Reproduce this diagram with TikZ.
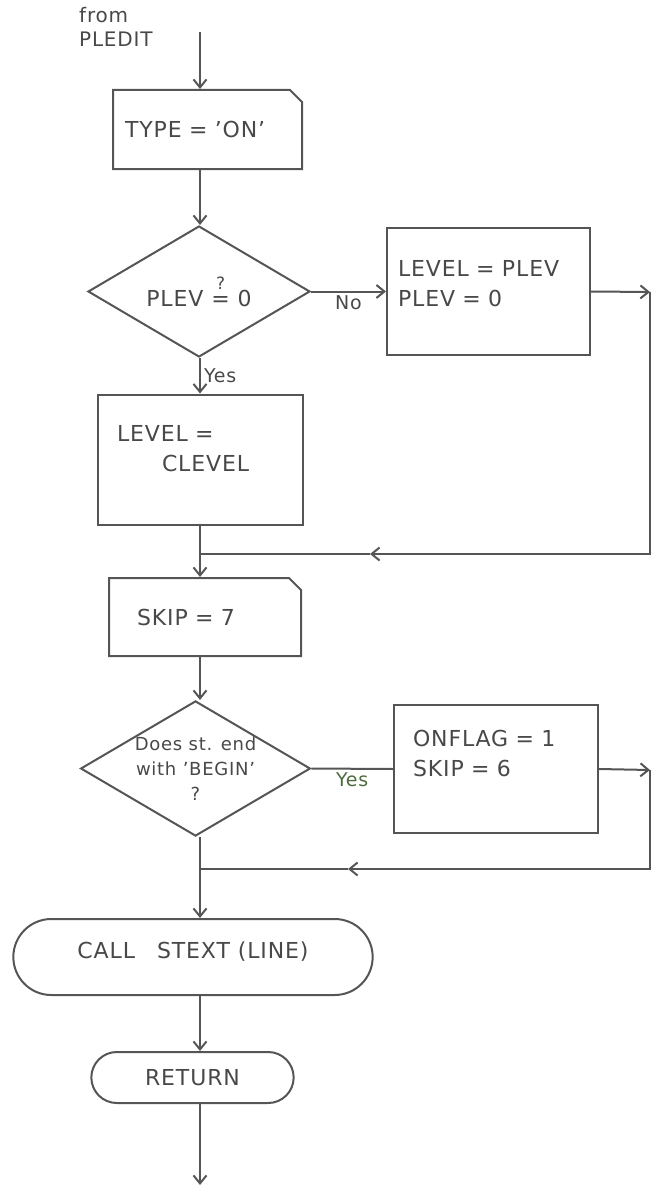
\documentclass[tikz,border=0pt]{standalone}
\usepackage{fontspec}
\setmainfont[LetterSpace=4]{DejaVu Sans}
\usetikzlibrary{arrows.meta,positioning,shapes.geometric,shapes.misc}
\definecolor{ink}{HTML}{555555}
\definecolor{pencil}{HTML}{484848}
\definecolor{olive}{HTML}{4E6B3E}
\newcommand{\handfont}{\fontsize{22}{30}\selectfont}
\newcommand{\smallhand}{\fontsize{18}{25}\selectfont}
\newcommand{\padb}[1]{\rule[-#1]{0pt}{0pt}}
\newcommand{\qeq}{\shortstack{{\fontsize{17}{17}\selectfont ?}\\[4pt]=}}
\tikzset{
  box/.style={draw=ink,line width=2pt,text=pencil,font=\handfont,align=left,inner ysep=4pt},
  cbox/.style={box,chamfered rectangle,chamfered rectangle corners=north east,chamfered rectangle xsep=4pt,chamfered rectangle ysep=8pt},
  dec/.style={draw=ink,line width=2pt,diamond,aspect=1.7,inner sep=0pt,text=pencil,font=\handfont,align=center},
  term/.style={draw=ink,line width=2pt,rounded rectangle,text=pencil,font=\handfont,align=center},
  lbl/.style={text=pencil,font=\fontsize{19}{22}\selectfont,inner sep=3pt},
  ln/.style={draw=ink,line width=2pt},
  ar/.style={ln,-{Straight Barb[length=8pt,width=13pt]}},
}
\begin{document}
\begin{tikzpicture}[x=1pt,y=-1pt]
  \useasboundingbox (0,0) rectangle (652,1188);
  % steps
  \node[lbl,font=\fontsize{20}{24}\selectfont,anchor=north west,align=left] (from) at (76,4) {from\\PLEDIT};
  \node[cbox,minimum width=181pt,minimum height=79pt,inner xsep=8pt,text width=165pt] (type) at (207.5,129.5) {TYPE = 'ON'};
  \node[dec,minimum width=222pt,minimum height=131pt] (plev) at (199,291.5) {PLEV \qeq\ 0};
  \node[box,minimum width=203pt,minimum height=127pt,inner xsep=11pt,text width=181pt] (setp) at (488.5,291.5)
    {LEVEL = PLEV\\PLEV = 0\padb{16pt}};
  \node[box,minimum width=205pt,minimum height=130pt,inner xsep=19pt,text width=167pt] (setc) at (200.5,459.5)
    {LEVEL =\\\hspace*{45pt}CLEVEL\padb{22pt}};
  \node[cbox,minimum width=184pt,minimum height=78pt,inner xsep=24pt,text width=136pt] (skip) at (205,617) {SKIP = 7};
  \node[dec,minimum width=225pt,minimum height=129pt,font=\smallhand] (begin) at (195.5,768.5)
    {Does st. end\\with 'BEGIN'\\?};
  \node[box,minimum width=204pt,minimum height=128pt,inner xsep=19pt,text width=166pt] (setf) at (496,769)
    {ONFLAG = 1\\SKIP = 6\padb{32pt}};
  \node[term,minimum width=366pt,minimum height=76pt] (call) at (193,957) {CALL\quad STEXT (LINE)\padb{14pt}};
  \node[term,minimum width=209pt,minimum height=51pt] (ret) at (192.5,1077.5) {RETURN};
  % rails and joins
  \coordinate (src) at (200,32);
  \coordinate (out) at (200,1185);
  \coordinate (r1) at (650,292);
  \coordinate (m1) at (370,554);
  \coordinate (j1) at (200,554);
  \coordinate (r2) at (650,770);
  \coordinate (m2) at (348,869);
  \coordinate (j2) at (200,869);
  \draw[ar] (src) -- (src |- type.north);
  \draw[ar] (src |- type.south) -- (src |- plev.north);
  \draw[ar] (plev.east) -- node[lbl,below]{No} (setp.west);
  \draw[ar] (setp.east) -- (r1);
  \draw[ar] (r1) |- (m1);
  \draw[ln] (m1) -- (j1);
  \draw[ar] (src |- plev.south) -- node[lbl,right]{Yes} (src |- setc.north);
  \draw[ln] (src |- setc.south) -- (j1);
  \draw[ar] (j1) -- (src |- skip.north);
  \draw[ar] (src |- skip.south) -- (src |- begin.north);
  \draw[ln] (begin.east) -- node[lbl,below,text=olive]{Yes} (setf.west);
  \draw[ar] (setf.east) -- (r2);
  \draw[ar] (r2) |- (m2);
  \draw[ln] (m2) -- (j2);
  \draw[ln] (src |- begin.south) -- (j2);
  \draw[ar] (j2) -- (src |- call.north);
  \draw[ar] (src |- call.south) -- (src |- ret.north);
  \draw[ar] (src |- ret.south) -- (out);
\end{tikzpicture}
\end{document}
